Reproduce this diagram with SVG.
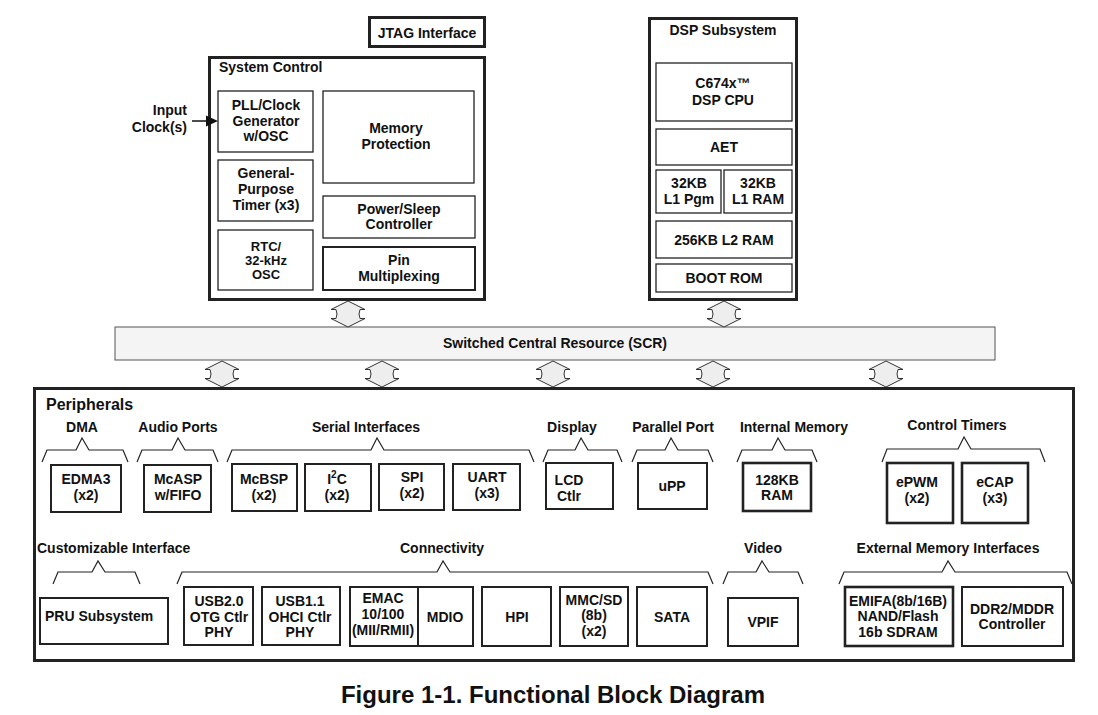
<svg xmlns="http://www.w3.org/2000/svg" width="1098" height="715" viewBox="0 0 1098 715">
<style>
.t{font-family:"Liberation Sans",Arial,Helvetica,sans-serif;font-weight:bold;font-size:14px;fill:#111}
.c{text-anchor:middle}
.e{text-anchor:end}
.box{fill:#fff;stroke:#222;stroke-width:2}
.thin{stroke-width:1.3}
.thick{stroke-width:3}
.brace{fill:none;stroke:#222;stroke-width:1.2}
.arr{fill:#eeeeee;stroke:#333;stroke-width:1}
</style>
<defs>
<path id="dbl" d="M0,0 L17,8.5 L12,8.5 Q10,13 12,17.5 L17,17.5 L0,26 L-17,17.5 L-12,17.5 Q-10,13 -12,8.5 L-17,8.5 Z"/>
</defs>
<rect width="1098" height="715" fill="#fff"/>

<g id="jtag">
<rect class="box thick" x="369.5" y="17.5" width="115" height="29"/>
<text class="t c" x="427" y="38">JTAG Interface</text>
</g>

<g id="input-clock">
<text class="t e" x="187" y="115">Input</text>
<text class="t e" x="187" y="132">Clock(s)</text>
</g>

<g id="system-control">
<rect class="box thick" x="209.5" y="57.5" width="275" height="242"/>
<text class="t" x="219" y="72">System Control</text>
<g id="pll"><rect class="box thin" x="218" y="91" width="95" height="61"/>
<text class="t c" x="266" y="110">PLL/Clock</text><text class="t c" x="266" y="126">Generator</text><text class="t c" x="266" y="141">w/OSC</text></g>
<g id="gptimer"><rect class="box thin" x="218" y="160" width="95" height="61"/>
<text class="t c" x="266" y="178">General-</text><text class="t c" x="266" y="194">Purpose</text><text class="t c" x="266" y="210">Timer (x3)</text></g>
<g id="rtc"><rect class="box thin" x="218" y="230" width="95" height="60"/>
<text class="t c" x="266" y="251" style="font-size:13px">RTC/</text><text class="t c" x="266" y="265" style="font-size:13px">32-kHz</text><text class="t c" x="266" y="279" style="font-size:13px">OSC</text></g>
<g id="memprot"><rect class="box thin" x="323" y="91" width="151" height="92"/>
<text class="t c" x="396" y="133">Memory</text><text class="t c" x="396" y="149">Protection</text></g>
<g id="power"><rect class="box thin" x="323" y="196" width="152" height="42"/>
<text class="t c" x="399" y="214">Power/Sleep</text><text class="t c" x="399" y="229">Controller</text></g>
<g id="pinmux"><rect class="box" x="323" y="247" width="152" height="43"/>
<text class="t c" x="399" y="265">Pin</text><text class="t c" x="399" y="281">Multiplexing</text></g>
</g>

<g id="dsp">
<rect class="box thick" x="649.5" y="18.5" width="147" height="281"/>
<text class="t c" x="723" y="35">DSP Subsystem</text>
<g id="cpu"><rect class="box thin" x="656" y="63" width="136" height="58"/>
<text class="t c" x="723" y="88">C674x™</text><text class="t c" x="723" y="105">DSP CPU</text></g>
<g id="aet"><rect class="box thin" x="656" y="129" width="136" height="36"/>
<text class="t c" x="724" y="152">AET</text></g>
<g id="l1p"><rect class="box thin" x="656" y="170" width="65" height="43"/>
<text class="t c" x="689" y="188">32KB</text><text class="t c" x="689" y="204">L1 Pgm</text></g>
<g id="l1d"><rect class="box thin" x="724" y="170" width="68" height="43"/>
<text class="t c" x="758" y="188">32KB</text><text class="t c" x="758" y="204">L1 RAM</text></g>
<g id="l2"><rect class="box thin" x="656" y="221" width="136" height="37"/>
<text class="t c" x="724" y="245">256KB L2 RAM</text></g>
<g id="bootrom"><rect class="box thin" x="656" y="264" width="136" height="28"/>
<text class="t c" x="724" y="283">BOOT ROM</text></g>
</g>

<g id="scr">
<rect x="115" y="327" width="880" height="33" fill="#f4f4f4" stroke="#555" stroke-width="1"/>
<text class="t c" x="555" y="348">Switched Central Resource (SCR)</text>
</g>

<g id="connectors">
<line x1="192" y1="121" x2="208" y2="121" stroke="#111" stroke-width="1.5"/>
<polygon points="206,115.5 218,121 206,126.5" fill="#111"/>
<use href="#dbl" class="arr" x="348" y="301"/>
<use href="#dbl" class="arr" x="724" y="301"/>
<use href="#dbl" class="arr" x="222" y="361"/>
<use href="#dbl" class="arr" x="382" y="361"/>
<use href="#dbl" class="arr" x="553" y="361"/>
<use href="#dbl" class="arr" x="713" y="361"/>
<use href="#dbl" class="arr" x="886" y="361"/>
</g>

<g id="peripherals">
<rect class="box thick" x="34.5" y="388.5" width="1039" height="272"/>
<text class="t" x="46" y="410" style="font-size:16px">Peripherals</text>

<g id="braces">
<path class="brace" d="M42,462 L47,450 L76,450 L82,438 L89,450 L123,450 L128,462"/>
<path class="brace" d="M137,462 L142,450 L172,450 L178,438 L185,450 L213,450 L218,462"/>
<path class="brace" d="M227,462 L232,450 L371,450 L377,438 L384,450 L529,450 L534,462"/>
<path class="brace" d="M543,462 L548,450 L575,450 L581,438 L588,450 L617,450 L622,462"/>
<path class="brace" d="M632,462 L637,450 L665,450 L671,438 L678,450 L708,450 L713,462"/>
<path class="brace" d="M737,462 L742,450 L772,450 L778,438 L785,450 L812,450 L817,462"/>
<path class="brace" d="M882,462 L887,449 L958,449 L964,437 L971,449 L1040,449 L1045,462"/>
<path class="brace" d="M53,584 L58,572 L92,572 L98,561 L105,572 L135,572 L140,584"/>
<path class="brace" d="M177,584 L182,572 L437,572 L443,561 L450,572 L708,572 L713,584"/>
<path class="brace" d="M723,584 L728,572 L756,572 L762,561 L769,572 L798,572 L803,584"/>
<path class="brace" d="M839,584 L844,572 L942,572 L948,561 L955,572 L1067,572 L1072,584"/>
</g>

<g id="labels">
<text class="t c" x="82" y="432">DMA</text>
<text class="t c" x="178" y="432">Audio Ports</text>
<text class="t c" x="366" y="432">Serial Interfaces</text>
<text class="t c" x="572" y="432">Display</text>
<text class="t c" x="673" y="432">Parallel Port</text>
<text class="t c" x="794" y="432">Internal Memory</text>
<text class="t c" x="957" y="430">Control Timers</text>
<text class="t" x="37" y="553">Customizable Interface</text>
<text class="t c" x="442" y="553">Connectivity</text>
<text class="t c" x="763" y="553">Video</text>
<text class="t c" x="948" y="553">External Memory Interfaces</text>
</g>

<g id="edma3"><rect class="box" x="51" y="465" width="70" height="47"/>
<text class="t c" x="86" y="484">EDMA3</text><text class="t c" x="86" y="500">(x2)</text></g>
<g id="mcasp"><rect class="box" x="144" y="465" width="67" height="47"/>
<text class="t c" x="178" y="484">McASP</text><text class="t c" x="178" y="500">w/FIFO</text></g>
<g id="mcbsp"><rect class="box" x="232" y="464" width="65" height="47"/>
<text class="t c" x="264" y="484">McBSP</text><text class="t c" x="264" y="500">(x2)</text></g>
<g id="i2c"><rect class="box" x="305" y="464" width="66" height="47"/>
<text class="t c" x="337" y="484">I<tspan dy="-6" style="font-size:10px">2</tspan><tspan dy="6">C</tspan></text><text class="t c" x="337" y="500">(x2)</text></g>
<g id="spi"><rect class="box" x="379" y="464" width="65" height="46"/>
<text class="t c" x="412" y="482">SPI</text><text class="t c" x="412" y="498">(x2)</text></g>
<g id="uart"><rect class="box" x="453" y="464" width="67" height="46"/>
<text class="t c" x="487" y="482">UART</text><text class="t c" x="487" y="498">(x3)</text></g>
<g id="lcd"><rect class="box" x="546" y="463" width="67" height="46"/>
<text class="t c" x="569" y="485">LCD</text><text class="t c" x="569" y="501">Ctlr</text></g>
<g id="upp"><rect class="box" x="638" y="463" width="69" height="46"/>
<text class="t c" x="672" y="491">uPP</text></g>
<g id="ram128"><rect class="box" x="743" y="463" width="68" height="48" style="stroke-width:2.6"/>
<text class="t c" x="777" y="485">128KB</text><text class="t c" x="777" y="500">RAM</text></g>
<g id="epwm"><rect class="box" x="887" y="463" width="66" height="60" style="stroke-width:2.6"/>
<text class="t c" x="917" y="487">ePWM</text><text class="t c" x="917" y="503">(x2)</text></g>
<g id="ecap"><rect class="box" x="962" y="463" width="66" height="60" style="stroke-width:2.6"/>
<text class="t c" x="995" y="487">eCAP</text><text class="t c" x="995" y="503">(x3)</text></g>

<g id="pru"><rect class="box" x="40" y="598" width="128" height="46"/>
<text class="t" x="45" y="621">PRU Subsystem</text></g>
<g id="usb20"><rect class="box" x="184" y="587" width="69" height="58"/>
<text class="t c" x="219" y="606">USB2.0</text><text class="t c" x="219" y="622">OTG Ctlr</text><text class="t c" x="219" y="637">PHY</text></g>
<g id="usb11"><rect class="box" x="262" y="587" width="78" height="58"/>
<text class="t c" x="300" y="606">USB1.1</text><text class="t c" x="300" y="622">OHCI Ctlr</text><text class="t c" x="300" y="637">PHY</text></g>
<g id="emac"><rect class="box" x="350" y="587" width="68" height="59"/>
<text class="t c" x="383" y="603">EMAC</text><text class="t c" x="383" y="619">10/100</text><text class="t c" x="383" y="635">(MII/RMII)</text></g>
<g id="mdio"><rect class="box" x="418" y="587" width="55" height="59"/>
<text class="t c" x="445" y="622">MDIO</text></g>
<g id="hpi"><rect class="box" x="482" y="587" width="69" height="59"/>
<text class="t c" x="517" y="622">HPI</text></g>
<g id="mmcsd"><rect class="box" x="560" y="587" width="68" height="59"/>
<text class="t c" x="594" y="605">MMC/SD</text><text class="t c" x="594" y="620">(8b)</text><text class="t c" x="594" y="636">(x2)</text></g>
<g id="sata"><rect class="box" x="637" y="587" width="70" height="59"/>
<text class="t c" x="672" y="622">SATA</text></g>
<g id="vpif"><rect class="box" x="728" y="598" width="70" height="48"/>
<text class="t c" x="763" y="627">VPIF</text></g>
<g id="emifa"><rect class="box" x="845" y="587" width="108" height="59" style="stroke-width:2.6"/>
<text class="t c" x="898" y="606">EMIFA(8b/16B)</text><text class="t c" x="898" y="621">NAND/Flash</text><text class="t c" x="898" y="637">16b SDRAM</text></g>
<g id="ddr2"><rect class="box" x="962" y="587" width="101" height="59"/>
<text class="t c" x="1012" y="614">DDR2/MDDR</text><text class="t c" x="1012" y="629">Controller</text></g>
</g>

<text class="t c" x="553" y="703" style="font-size:24px">Figure 1-1. Functional Block Diagram</text>
</svg>
